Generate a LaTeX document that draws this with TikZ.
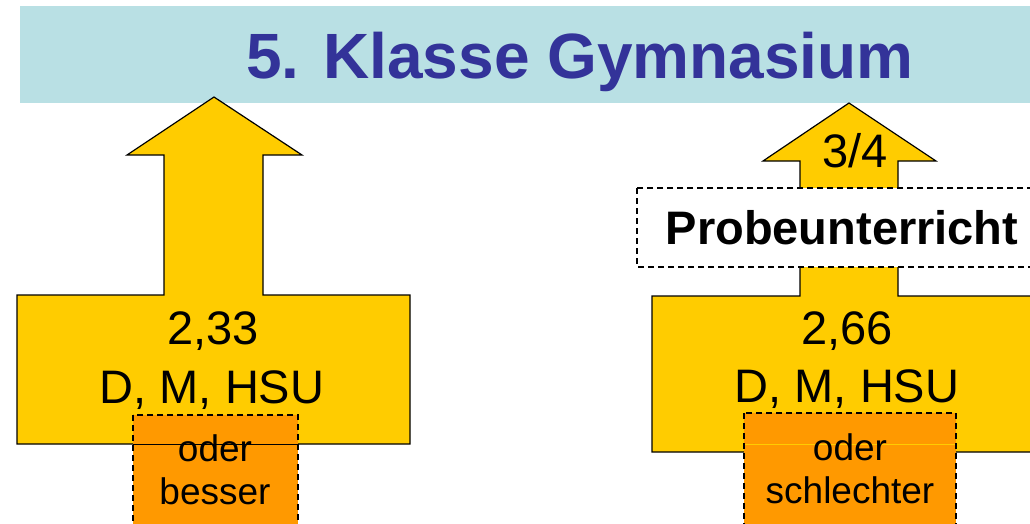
\documentclass[tikz,border=0pt]{standalone}
\usepackage{fontspec}
\setmainfont{Liberation Sans}
\definecolor{band}{HTML}{B9E0E4}
\definecolor{titleblue}{HTML}{333399}
\definecolor{arrowyellow}{HTML}{FFCC00}
\definecolor{boxorange}{HTML}{FF9900}
\tikzset{
  bigarrow/.style={fill=arrowyellow, draw=black, line width=1.2pt, line join=miter},
  dashbox/.style={draw=black, line width=1.4pt, dash pattern=on 6pt off 4pt},
  maintext/.style={anchor=base, inner sep=0pt, font=\fontsize{47}{56}\selectfont},
  smalltext/.style={anchor=base, inner sep=0pt, font=\fontsize{37}{44}\selectfont},
}
\begin{document}
\begin{tikzpicture}[x=1pt,y=-1pt]
\useasboundingbox (0,0) rectangle (1030,524);
\clip (0,0) rectangle (1030,524);
% title band
\fill[band] (20,6) rectangle (1040,103);
\node (title) [anchor=base, inner sep=0pt, text=titleblue, font=\fontsize{64}{70}\selectfont\bfseries] at (580,79) {5. Klasse Gymnasium};
% left arrow
\draw[bigarrow] (214,97) -- (302,155) -- (263,155) -- (263,295) -- (410,295) -- (410,444)
  -- (17,444) -- (17,295) -- (164,295) -- (164,155) -- (127,155) -- cycle;
\filldraw[fill=boxorange, dashbox] (133,415) rectangle (298,540);
\draw[black, line width=1pt] (133,444) -- (298,444);
\node (lgrade) [maintext] at (213,344) {2,33};
\node (lsubj) [maintext] at (212,403) {D, M, HSU};
\node (loder) [smalltext] at (215,461) {oder};
\node (lbesser) [smalltext] at (215,504) {besser};
% right arrow
\draw[bigarrow] (849,103) -- (936,161) -- (898,161) -- (898,296) -- (1046,296) -- (1046,452)
  -- (652,452) -- (652,296) -- (800,296) -- (800,161) -- (763,161) -- cycle;
\node (frac) [maintext] at (855,167) {3/4};
\filldraw[fill=white, dashbox] (637,188) rectangle (1061,267);
\node (probe) [anchor=base, inner sep=0pt, font=\fontsize{47}{56}\selectfont\bfseries] at (842,244) {Probeunterricht};
\filldraw[fill=boxorange, dashbox] (744,413) rectangle (956,540);
\draw[arrowyellow, line width=0.6pt] (745,444) -- (955,444);
\node (rgrade) [maintext] at (847,344) {2,66};
\node (rsubj) [maintext] at (847,402) {D, M, HSU};
\node (roder) [smalltext] at (850,460) {oder};
\node (rschl) [smalltext] at (850,503) {schlechter};
\end{tikzpicture}
\end{document}
